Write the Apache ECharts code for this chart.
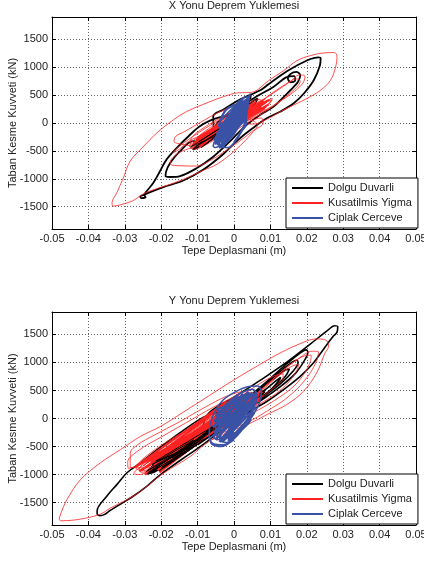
<!DOCTYPE html>
<html>
<head>
<meta charset="utf-8">
<script src="https://cdn.jsdelivr.net/npm/echarts@6/dist/echarts.min.js"></script>
<style>
  html, body { margin: 0; padding: 0; background: #fff; }
  #chart { width: 424px; height: 561px; }
</style>
</head>
<body>
<div id="chart"></div>
<script>
// eksen etiketleri
var yTicks = [-1500, -1000, -500, 0, 500, 1000, 1500];
var seriesNames = ['Dolgu Duvarli', 'Kusatilmis Yigma', 'Ciplak Cerceve'];
var titles = ['X Yonu Deprem Yuklemesi', 'Y Yonu Deprem Yuklemesi'];

// X yonu - dolgu duvarli (siyah)
var xDolgu = [
  [-0.002,-60],[0.001,90],[0.004,250],[0.0055,350],[0.0045,260],[0.0015,70],[-0.003,-160],[-0.007,-330],[-0.0105,-450],
  [-0.0098,-380],[-0.006,-190],[-0.002,10],[0.002,200],[0.005,380],[0.0065,440],[0.0055,320],[0.002,120],[-0.002,-100],
  [-0.006,-290],[-0.0095,-420],[-0.0112,-480],[-0.0092,-340],[-0.005,-130],[-0.001,70],[0.003,270],[0.0044,420],
  [0.0046,525],[0.0038,380],[0.001,140],[-0.003,-110],[-0.008,-350],
  [-0.0112,-326],[-0.0148,-504],[-0.0175,-711],[-0.0187,-880],[-0.0188,-960],[-0.0175,-968],[-0.0148,-952],
  [-0.0103,-812],[-0.0057,-605],[-0.0012,-335],[0.003,-60],[0.0072,147],[0.0109,294],[0.0137,470],[0.0164,647],
  [0.0176,740],[0.0182,850],[0.0172,915],[0.0155,880],[0.0148,800],[0.0156,730],[0.0168,760],[0.0165,840],
  [0.0145,823],[0.0108,647],[0.0053,441],[-0.0002,206],[-0.0045,10],
  [-0.006,-200],[-0.0095,-380],[-0.0075,-230],[-0.003,-20],[0.002,230],[0.004,330],[0.002,160],[-0.002,-60],[-0.005,-230],
  [-0.0057,119],[-0.003,237],[0.001,400],[0.0072,588],[0.0091,676],[0.0128,853],[0.0164,1000],[0.021,1147],[0.0232,1178],[0.0238,1160],
  [0.0236,1029],[0.0219,765],[0.0192,529],[0.0164,353],[0.0128,206],[0.0091,88],[0.005,-100],[0.001,-310],[-0.003,-560],
  [-0.0085,-840],[-0.0139,-1030],[-0.0194,-1150],[-0.0225,-1225],[-0.0248,-1288],
  [-0.0258,-1318],[-0.0254,-1345],[-0.0243,-1330],[-0.0246,-1290],
  [-0.0239,-1216],[-0.0221,-1067],[-0.0203,-860],[-0.0185,-652],[-0.0157,-445],[-0.0125,-237],[-0.0094,-59],[-0.006,60],[-0.003,120],
  [0.0,180],[-0.004,-100],[-0.008,-300],[-0.01,-400],[-0.006,-150],[-0.001,100],[0.003,300]
];

// X yonu - siyah yogun bolge (kirmizinin ustunde ince)
var xDolguCore = [
  [-0.0115,-470],[-0.003,-120],[-0.0105,-420],[0.001,60],[-0.009,-440],[-0.004,-200],[-0.012,-430],[-0.002,-20],
  [-0.0095,-330],[0.003,200],[-0.0078,-380],[-0.001,-60]
];

// X yonu - kusatilmis yigma (kirmizi)
var xKusat = [
  [-0.002,-40],[0.003,160],[0.008,330],[0.0095,400],[0.007,300],[0.002,80],[-0.004,-180],[-0.009,-360],[-0.0118,-450],
  [-0.0105,-330],[-0.006,-120],[0,100],[0.005,270],[0.009,380],[0.0105,410],[0.008,270],[0.003,60],[-0.003,-200],
  [-0.008,-400],[-0.011,-470],[-0.0122,-420],[-0.009,-200],[-0.004,20],[0.001,200],[0.006,360],[0.0085,430],[0.006,310],
  [0.001,120],[-0.004,-110],[-0.0095,-330],[-0.012,-380],[-0.0115,-250],[-0.007,-30],[-0.002,150],[0.003,320],[0.007,420],
  [0.008,380],[0.004,180],[-0.001,-60],[-0.006,-280],[-0.0105,-430],[-0.0125,-460],
  [-0.0157,-560],[-0.0175,-700],[-0.0172,-752],[-0.014,-768],[-0.0103,-772],[-0.007,-690],[-0.003,-530],[0.001,-350],
  [0.005,-150],[0.008,0],[0.0075,90],[0.004,20],[0,-150],
  [-0.005,-250],[-0.0095,-400],[-0.0085,-280],[-0.004,-60],[0.002,180],[0.007,350],[0.0105,440],[0.0095,330],[0.005,150],
  [0,-50],[-0.006,-260],[-0.0108,-410],
  [-0.0145,-380],[-0.0165,-330],[-0.016,-240],[-0.0135,-150],[-0.009,20],[-0.004,200],[0.001,330],[0.0045,420],[0.002,300],
  [-0.003,60],[-0.008,-180],[-0.0125,-330],[-0.0148,-460],[-0.0168,-540],[-0.0158,-460],[-0.0115,-250],[-0.006,-20],[0,200],
  [0.006,340],[0.011,560],[0.0148,720],[0.0172,790],[0.0182,750],[0.0172,640],[0.0142,470],[0.0105,300],[0.006,140],
  [0.002,-20],[-0.002,-120],[0.002,120],[0.0075,390],[0.0125,610],[0.0158,760],[0.0178,860],[0.0195,840],[0.019,720],
  [0.0165,560],[0.0125,380],[0.0075,160],[0.003,0],
  [0.0054,-20],[0.0091,70],[0.0128,206],[0.0164,323],[0.0201,441],[0.0238,588],[0.0265,765],[0.0279,1000],[0.0283,1200],
  [0.0276,1262],[0.0245,1255],[0.021,1208],[0.0173,1118],[0.0137,941],[0.0095,760],[0.0055,560],[0.0035,545],[0.0012,541],
  [-0.003,470],[-0.0066,382],[-0.013,206],[-0.0166,59],[-0.0212,-178],[-0.0248,-415],[-0.0285,-682],[-0.0305,-1000],
  [-0.0322,-1250],[-0.0335,-1430],[-0.0333,-1490],[-0.0314,-1470],[-0.0277,-1390],[-0.0248,-1265],[-0.022,-1195],
  [-0.0194,-1140],[-0.0139,-1010],[-0.0085,-850],[-0.0047,-740],[0.0005,-480],[0.0054,-150],[0.0065,-40],
  [0.004,60],[0,-80],[-0.005,-240],[-0.009,-390],[-0.006,-200],[-0.001,40],[0.004,250],[0.007,330]
];

// X yonu - kirmizi yogun bolge
var xKusatCore = [
  [-0.011,-430],[0.009,380],[-0.010,-330],[0.008,400],[-0.0115,-400],[0.0095,330],[-0.009,-380],[0.007,360],
  [-0.0105,-300],[0.0085,260],[-0.008,-370],[0.006,380],[-0.010,-260],[0.009,300],[-0.0095,-420],[0.005,350],
  [-0.007,-320],[0.0075,300],[-0.0112,-360],[0.004,260],[-0.006,-280],[0.0085,360],[-0.0085,-250],[0.006,250],
  [-0.0105,-380],[0.007,330],[-0.008,-200],[0.0045,330],[-0.0095,-340],[0.0075,230],[-0.0065,-150],[0.0098,420]
];

// X yonu - ciplak cerceve (mavi)
var xCiplak = [
  [-0.001,-20],[0.001,150],[0.0028,330],[0.0044,520],[0.0042,440],[0.0035,260],[0.002,60],[-0.0005,-180],[-0.003,-360],
  [-0.0052,-440],[-0.0057,-410],[-0.0048,-260],[-0.003,-60],[-0.001,150],[0.001,330],[0.0025,450],[0.0038,470],[0.0036,330],
  [0.0018,120],[-0.0005,-110],[-0.0025,-300],[-0.004,-420],[-0.0015,-440],[0,-360],[0.002,-160],[0.0035,0],[0.003,150],
  [0.0015,260],[-0.001,120],[-0.0035,-100],[-0.0045,-250],[-0.0048,-360],[-0.003,-280],[-0.001,-80],[0.0015,160],
  [0.0032,360],[0.0041,420],[0.0028,240],[0.0005,20],[-0.002,-200],[-0.0042,-340],[-0.0035,-180],[-0.0038,0],[-0.002,160],
  [0.0005,320],[0.002,420],[0.0025,300],[0.003,100],[0.001,-100],[-0.001,-280],[-0.0035,-400],[-0.005,-340],[-0.004,-120],
  [-0.0015,100],[0.001,280],[0.0035,430],[0.0038,280],[0.0015,50],[-0.0012,-200],[-0.0025,-380],[-0.004,-450],
  [-0.002,-330],[0.0008,-100],[0.003,100],[0.0036,200]
];

// X yonu - mavi yogun bolge
var xCiplakCore = [
  [-0.0045,-400],[0.0035,420],[-0.004,-250],[0.004,350],[-0.0052,-380],[0.0025,450],[-0.003,-420],[0.0038,280],
  [-0.0048,-200],[0.003,380],[-0.0035,-350],[0.0042,470],[-0.0055,-300],[0.002,320],[-0.0025,-380],[0.0035,200],
  [-0.004,-100],[0.0015,400],[-0.002,-250],[0.003,100],[-0.0042,-60],[-0.002,250],[0.0035,380],[0.003,0],[0,-350]
];

// Y yonu - dolgu duvarli (siyah)
var yDolgu = [
  [-0.006,-200],[-0.001,60],[0.004,280],[0.0075,420],[0.006,300],[0.001,60],[-0.005,-220],[-0.012,-520],[-0.018,-780],
  [-0.0225,-950],[-0.021,-820],[-0.015,-560],[-0.009,-280],[-0.003,0],[0.003,250],[0.0065,380],[0.004,220],[-0.002,-60],
  [-0.009,-380],[-0.016,-700],[-0.021,-900],[-0.0235,-960],[-0.02,-780],[-0.013,-430],[-0.006,-120],[0.001,170],
  [0.006,400],[0.0085,480],[0.005,270],[-0.001,-10],[-0.008,-330],[-0.015,-650],[-0.02,-860],[-0.0225,-880],[-0.018,-660],
  [-0.011,-350],[-0.004,-40],[0.002,220],[0.005,330],[0.002,130],[-0.004,-160],[-0.011,-470],[-0.017,-740],[-0.0215,-920],
  [-0.024,-980],[-0.0238,-940],
  [-0.0215,-800],[-0.017,-580],[-0.011,-300],[-0.005,-40],[0.001,200],[0.004,330],[0.001,150],[-0.005,-180],[-0.012,-520],
  [-0.018,-800],[-0.0222,-965],[-0.0245,-985],[-0.0235,-960],[-0.0195,-830],[-0.014,-620],
  [-0.008,-300],[-0.002,0],[0.004,290],[0.0085,510],[0.0115,670],[0.0128,735],[0.0125,690],[0.0105,540],[0.0075,380],
  [0.003,170],[-0.003,-120],
  [-0.008,-360],[-0.0035,-100],[0.002,240],[0.0075,540],[0.0115,740],[0.0142,870],[0.0152,880],[0.0142,760],[0.0115,580],
  [0.008,400],[0.003,160],[-0.003,-150],[-0.01,-470],
  [-0.006,-230],[0,120],[0.006,450],[0.011,740],[0.015,960],[0.0172,1040],[0.0176,1000],[0.016,830],[0.0128,620],
  [0.0085,410],[0.003,170],[-0.004,-180],
  [-0.011,-440],[-0.004,-60],[0.003,330],[0.009,660],[0.014,950],[0.0178,1150],[0.0198,1225],[0.0203,1180],[0.0192,1020],
  [0.0168,800],[0.013,580],[0.0085,370],[0.003,140],[-0.003,-140],[-0.009,-420],
  [-0.0074,60],[0,380],[0.0074,690],[0.0147,1014],[0.0212,1340],[0.0258,1577],[0.0276,1655],[0.0285,1640],[0.0283,1540],
  [0.0273,1470],[0.0245,1228],[0.0218,990],[0.0182,753],[0.0136,516],[0.0091,308],[0.0045,130],[0,-60],[-0.0046,-270],
  [-0.0092,-498],[-0.0147,-745],[-0.0202,-1000],[-0.0239,-1206],[-0.0276,-1383],[-0.0315,-1540],[-0.034,-1640],
  [-0.0358,-1720],[-0.0368,-1732],[-0.0376,-1700],[-0.0376,-1649],[-0.0349,-1383],[-0.0322,-1180],[-0.0294,-968],
  [-0.0257,-791],[-0.0212,-560],[-0.0147,-250],[-0.0085,20],
  [-0.004,120],[-0.01,-300],[-0.017,-650],[-0.0205,-820],[-0.015,-540],[-0.008,-180],[-0.002,100],[0.003,300]
];

// Y yonu - siyah yogun bolge (kirmizinin ustunde ince)
var yDolguCore = [
  [-0.0235,-960],[-0.008,-300],[-0.022,-900],[-0.006,-200],[-0.024,-940],[-0.01,-430],[-0.0205,-930],[-0.007,-330],
  [-0.0225,-820],[-0.011,-380],[-0.0238,-990],[-0.009,-420],[-0.019,-860],[-0.006,-150],[-0.0215,-760],[-0.012,-520],
  [-0.02,-880],[-0.004,-60],[-0.017,-700],[0.002,200],[-0.013,-560],[0.004,260]
];

// Y yonu - kusatilmis yigma (kirmizi)
var yKusat = [
  [-0.008,-260],[-0.002,20],[0.004,260],[0.008,410],[0.006,300],[0,40],[-0.007,-280],[-0.014,-560],[-0.02,-790],
  [-0.0255,-960],[-0.026,-900],[-0.022,-700],[-0.016,-450],[-0.009,-150],[-0.002,130],[0.004,360],[0.007,440],[0.004,260],
  [-0.002,-20],[-0.009,-330],[-0.016,-620],[-0.022,-860],[-0.026,-1000],[-0.0275,-980],[-0.024,-800],[-0.018,-530],
  [-0.011,-240],[-0.005,30],[0.001,260],[0.006,450],[0.008,470],[0.005,300],[-0.001,40],[-0.008,-280],[-0.015,-560],
  [-0.021,-800],[-0.025,-930],[-0.027,-880],[-0.025,-720],[-0.02,-480],[-0.013,-200],[-0.006,80],[0.001,320],[0.005,420],
  [0.002,230],[-0.004,-60],[-0.011,-360],[-0.018,-660],[-0.0235,-880],[-0.0285,-870],[-0.0285,-620],[-0.0265,-470],
  [-0.022,-300],[-0.015,-60],[-0.008,200],[-0.002,400],[0.002,480],[0,320],[-0.006,40],[-0.013,-260],[-0.019,-540],
  [-0.0245,-780],[-0.029,-890],[-0.0292,-780],[-0.026,-560],[-0.02,-330],[-0.013,-70],[-0.006,190],[0.001,420],
  [0.004,500],[0.001,330],[-0.005,60],[-0.012,-250],[-0.018,-520],[-0.0225,-720],[-0.025,-850],
  [-0.02,-600],[-0.013,-280],[-0.006,40],[0.001,350],[0.007,620],[0.011,760],[0.0135,800],[0.0135,720],[0.0115,580],
  [0.0085,420],[0.004,220],[-0.002,-40],[-0.009,-340],
  [-0.004,-100],[0.002,200],[0.008,520],[0.013,800],[0.0165,950],[0.0178,960],[0.0172,850],[0.015,650],[0.0115,440],
  [0.007,260],[0.002,60],[-0.004,-200],
  [-0.001,60],[0.005,380],[0.011,720],[0.016,990],[0.0195,1120],[0.0212,1130],[0.021,1020],[0.0195,820],[0.0165,580],
  [0.0125,380],[0.008,200],[0.003,20],[-0.003,-220],
  [0.001,120],[0.007,480],[0.013,830],[0.018,1080],[0.0215,1200],[0.0232,1190],[0.0228,1050],[0.021,820],[0.0178,560],
  [0.0138,330],[0.009,130],[0.004,-60],
  [-0.002,-220],[-0.008,-460],[-0.012,-676],[-0.0193,-973],[-0.0239,-1206],[-0.0276,-1383],[-0.034,-1600],
  [-0.0367,-1706],[-0.0422,-1795],[-0.0473,-1824],[-0.048,-1800],[-0.0476,-1700],[-0.0459,-1448],[-0.0422,-1093],
  [-0.0367,-791],[-0.0312,-555],[-0.0257,-319],[-0.0202,-142],[-0.014,110],[-0.007,400],[0,690],[0.007,960],
  [0.013,1180],[0.018,1330],[0.0225,1420],[0.0252,1400],[0.026,1290],[0.025,1168],[0.0227,812],[0.0191,486],
  [0.0145,249],[0.0091,71],[0.004,-100],
  [0,-200],[-0.006,-380],[-0.003,-150],[0.002,100]
];

// Y yonu - kirmizi yogun bolge
var yKusatCore = [
  [-0.024,-960],[0.006,400],[-0.022,-820],[0.007,330],[-0.025,-900],[0.004,420],[-0.020,-850],[0.0065,280],
  [-0.023,-760],[0.005,460],[-0.0245,-1000],[0.002,380],[-0.019,-700],[0.0075,380],[-0.026,-940],[0.003,300],
  [-0.021,-920],[0.0055,450],[-0.022,-700],[0.001,420],[-0.018,-800],[0.006,320],[-0.0235,-850],[0.004,260],
  [-0.0205,-960],[0.0068,430],[-0.024,-780],[0.002,250],[-0.017,-760],[0.005,380],[-0.027,-860],[-0.002,300]
];

// Y yonu - ciplak cerceve (mavi)
var yCiplak = [
  [0.0,-380],[-0.003,-470],[-0.0055,-455],[-0.0068,-340],[-0.0066,-120],[-0.0052,130],[-0.003,330],[0.0005,480],
  [0.004,570],[0.0065,580],[0.0075,480],[0.007,280],[0.005,40],[0.002,-220],[-0.001,-420],[-0.0035,-500],[-0.0058,-470],
  [-0.0065,-380],
  [-0.004,-200],[-0.001,20],[0.002,230],[0.0045,400],[0.0062,470],[0.005,300],[0.002,60],[-0.001,-180],[-0.0045,-380],
  [-0.0055,-330],[-0.003,-120],[0,110],[0.003,320],[0.0058,440],[0.0052,260],[0.0025,30],[-0.0005,-200],[-0.0035,-360],
  [-0.0048,-240],[-0.0025,0],[0.0005,220],[0.0035,400],[0.0055,360],[0.004,150],[0.001,-90],[-0.002,-310],[-0.004,-330],
  [-0.003,-80],[-0.0005,150],[0.0025,350],[0.0048,450],[0.0046,240],[0.002,0],[-0.0008,-250],[-0.003,-400],[-0.0042,-160],
  [-0.002,80],[0.001,300],[0.004,460],[0.0055,380],[0.0035,120],[0.0005,-150],[-0.002,-350],
  [-0.0045,-330],[-0.005,-100],[-0.0035,150],[-0.001,330],[0.002,460],[0.005,520],[0.0063,430],[0.0055,200],[0.003,-80],
  [0,-330],[-0.002,-430],[-0.004,-400]
];

// Y yonu - mavi yogun bolge
var yCiplakCore = [
  [-0.005,-380],[0.005,450],[-0.0055,-250],[0.0058,380],[-0.004,-420],[0.0062,300],[-0.0058,-150],[0.004,470],
  [-0.003,-400],[0.006,200],[-0.0055,-50],[0.0025,440],[-0.0015,-400],[0.0055,100],[-0.005,50],[0.001,400],
  [-0.0005,-330],[0.0045,-20],[-0.0045,150],[0.002,300],[-0.004,-300],[0.0052,330]
];

var font = 'Liberation Sans, Arial, sans-serif';
var textColor = '#222';
var gridDefs = [
  { left: 52, top: 17, width: 364, height: 212 },
  { left: 52, top: 312, width: 364, height: 213 }
];

var chart = echarts.init(document.getElementById('chart'));

var xAxes = [], yAxes = [], series = [], legends = [], titleList = [];
gridDefs.forEach(function (g, i) {
  // alt x ekseni
  xAxes.push({
    gridIndex: i, type: 'value', min: -0.05, max: 0.05, interval: 0.01,
    name: 'Tepe Deplasmani (m)', nameLocation: 'middle', nameGap: 16,
    nameTextStyle: { fontFamily: font, fontSize: 11, color: textColor },
    axisLine: { show: true, onZero: false, lineStyle: { color: '#000', width: 1 } },
    axisTick: { show: true, inside: true, length: 4, lineStyle: { color: '#000' } },
    axisLabel: { margin: 4, fontFamily: font, fontSize: 11, color: textColor, showMinLabel: true, showMaxLabel: true },
    splitLine: { show: true, lineStyle: { color: '#666', type: [1, 2], width: 1 } }
  });
  // ust x ekseni (kutu)
  xAxes.push({
    gridIndex: i, type: 'value', position: 'top', min: -0.05, max: 0.05, interval: 0.01,
    axisLine: { show: true, onZero: false, lineStyle: { color: '#000', width: 1 } },
    axisTick: { show: true, inside: true, length: 4, lineStyle: { color: '#000' } },
    axisLabel: { show: false }, splitLine: { show: false }
  });
  yAxes.push({
    gridIndex: i, type: 'value', min: -1900, max: 1900,
    name: 'Taban Kesme Kuvveti (kN)', nameLocation: 'middle', nameGap: 34, nameMoveOverlap: false,
    nameTextStyle: { fontFamily: font, fontSize: 11, color: textColor },
    axisLine: { show: true, onZero: false, lineStyle: { color: '#000', width: 1 } },
    axisTick: { show: true, inside: true, length: 4, customValues: yTicks, lineStyle: { color: '#000' } },
    axisLabel: {
      margin: 4, customValues: yTicks, fontFamily: font, fontSize: 11, color: textColor,
      formatter: function (v) { return String(v); }
    },
    splitLine: { show: true, lineStyle: { color: '#666', type: [1, 2], width: 1 } }
  });
  yAxes.push({
    gridIndex: i, type: 'value', position: 'right', min: -1900, max: 1900,
    axisLine: { show: true, onZero: false, lineStyle: { color: '#000', width: 1 } },
    axisTick: { show: true, inside: true, length: 4, customValues: yTicks, lineStyle: { color: '#000' } },
    axisLabel: { show: false }, splitLine: { show: false }
  });

  // [veri, renk sirasi, cizgi kalinligi]
  var layers = i === 0
    ? [[xDolgu, 0, 1.8], [xKusat, 1, 0.8], [xKusatCore, 1, 1.8], [xDolguCore, 0, 0.8], [xCiplak, 2, 1.6], [xCiplakCore, 2, 2.2]]
    : [[yDolgu, 0, 1.6], [yKusat, 1, 0.8], [yKusatCore, 1, 2.2], [yDolguCore, 0, 1.0], [yCiplak, 2, 1.6], [yCiplakCore, 2, 2.4]];
  var colors = ['#000000', '#ff2222', '#3a52a6'];
  layers.forEach(function (l, n) {
    series.push({
      name: seriesNames[l[1]], type: 'line', xAxisIndex: i * 2, yAxisIndex: i * 2,
      data: l[0], symbol: 'none', showSymbol: false, smooth: 0.35,
      lineStyle: { color: colors[l[1]], width: l[2] }, itemStyle: { color: colors[l[1]] },
      z: 2 + n
    });
  });

  legends.push({
    data: seriesNames.map(function (nm) { return { name: nm, icon: 'rect' }; }),
    orient: 'vertical', left: 286, top: g.top + g.height - 51,
    selectedMode: false, backgroundColor: '#fff', borderColor: '#000', borderWidth: 1,
    padding: [4, 6, 4, 6], itemWidth: 31, itemHeight: 2, itemGap: 3,
    textStyle: { fontFamily: font, fontSize: 11, color: textColor, lineHeight: 12 }
  });

  titleList.push({
    text: titles[i], left: 234, textAlign: 'center', top: i === 0 ? 0 : 295, padding: 0,
    textStyle: { fontFamily: font, fontSize: 11, fontWeight: 'normal', color: textColor }
  });
});

chart.setOption({
  animation: false,
  backgroundColor: '#fff',
  title: titleList,
  legend: legends,
  grid: gridDefs.map(function (g) {
    return { left: g.left, top: g.top, width: g.width, height: g.height, outerBoundsMode: 'none' };
  }),
  xAxis: xAxes,
  yAxis: yAxes,
  series: series
});
</script>
</body>
</html>
